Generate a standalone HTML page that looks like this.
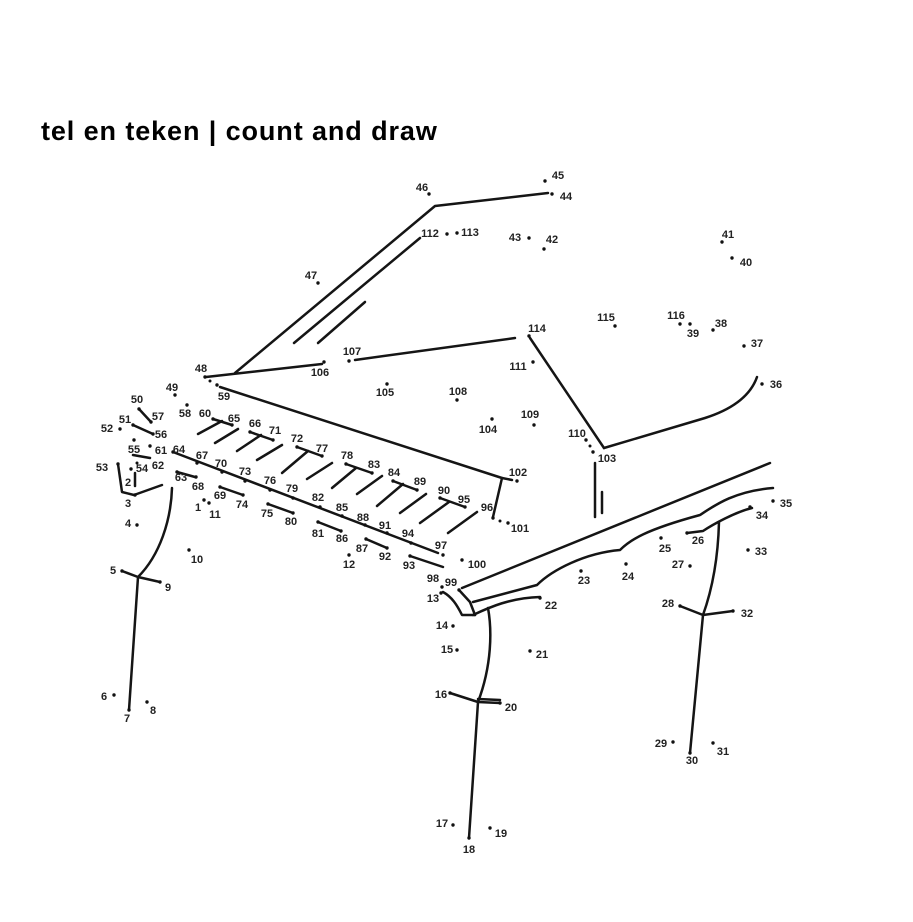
<!DOCTYPE html>
<html><head><meta charset="utf-8"><style>
html,body{margin:0;padding:0;background:#fff;}
body{width:913px;height:922px;overflow:hidden;position:relative;}
h1{position:absolute;left:41px;top:113px;margin:0;font-family:"Liberation Sans",Arial,sans-serif;font-weight:bold;font-size:27px;letter-spacing:0.9px;color:#000;white-space:nowrap;line-height:36px;}
svg{position:absolute;left:0;top:0;}
.l{fill:none;stroke:#151515;stroke-width:2.5;stroke-linecap:round;stroke-linejoin:round;}
.t{font-family:"Liberation Sans",Arial,sans-serif;font-weight:bold;font-size:11px;fill:#222;text-anchor:middle;}
.d{fill:#111;}
</style></head><body>
<h1>tel en teken | count and draw</h1>
<svg width="913" height="922" viewBox="0 0 913 922" xmlns="http://www.w3.org/2000/svg">
<g class="l">
<!-- lid -->
<path d="M206,377 L322,364"/>
<path d="M235,373 L435,206 L548,193"/>
<path d="M294,343 L420,238"/>
<path d="M318,343 L365,302"/>
<path d="M355,360 L515,338"/>
<path d="M530,338 L604,448"/>
<path d="M604,448 L705,418 C730,410 750,397 757,377"/>
<path d="M595,463 L595,517"/>
<path d="M602,492 L602,513"/>
<!-- keyboard back -->
<path d="M220,387 L502,478 L512,480"/>
<path d="M502,478 L493,517"/>
<!-- keyboard front -->
<path d="M173,452 L438,553"/>
<!-- black keys -->
<path d="M198,434 L222,421"/>
<path d="M215,443 L238,429"/>
<path d="M237,451 L261,435"/>
<path d="M257,460 L282,445"/>
<path d="M282,473 L308,451"/>
<path d="M307,479 L332,463"/>
<path d="M332,488 L356,468"/>
<path d="M357,494 L382,476"/>
<path d="M377,506 L403,484"/>
<path d="M400,513 L426,494"/>
<path d="M420,523 L449,502"/>
<path d="M448,533 L477,512"/>
<!-- T tops -->
<path d="M213,419 L232,425"/>
<path d="M250,432 L273,440"/>
<path d="M297,447 L322,456"/>
<path d="M346,464 L372,473"/>
<path d="M393,481 L417,490"/>
<path d="M440,498 L465,507"/>
<!-- lower stubs -->
<path d="M177,472 L195,477"/>
<path d="M220,487 L243,495"/>
<path d="M268,504 L293,513"/>
<path d="M318,522 L341,531"/>
<path d="M366,539 L387,548"/>
<path d="M410,556 L443,567"/>
<!-- left side -->
<path d="M139,409 L151,422"/>
<path d="M133,425 L153,434"/>
<path d="M133,455 L150,458"/>
<path d="M118,464 L122,492 L134,495 L162,485"/>
<path d="M135,473 L135,486"/>
<!-- left leg -->
<path d="M172,488 C171,520 160,555 138,577 L129,710"/>
<path d="M122,571 L138,577 L160,582"/>
<!-- front body -->
<path d="M462,588 L770,463"/>
<path d="M473,602 L537,585 C552,570 585,553 620,550 C630,540 645,530 700,515 C715,505 735,491 773,488"/>
<path d="M473,615 C490,607 510,598 540,597"/>
<path d="M443,592 C452,597 457,605 462,615 L475,615"/>
<path d="M459,590 L470,602 L475,615"/>
<!-- middle leg -->
<path d="M488,608 C492,630 492,665 478,702 L469,838"/>
<path d="M450,693 L478,702 L500,703"/>
<path d="M478,699 L500,700"/>
<!-- right leg -->
<path d="M719,522 C718,560 712,590 703,615 L690,753"/>
<path d="M680,606 L703,615 L733,611"/>
<path d="M687,533 L703,531 C712,525 735,512 752,508"/>
</g>
<g class="d">
<circle cx="204" cy="500" r="1.7"/><circle cx="135" cy="495" r="1.7"/><circle cx="137" cy="525" r="1.7"/>
<circle cx="122" cy="571" r="1.7"/><circle cx="114" cy="695" r="1.7"/><circle cx="129" cy="710" r="1.7"/>
<circle cx="147" cy="702" r="1.7"/><circle cx="160" cy="582" r="1.7"/><circle cx="189" cy="550" r="1.7"/>
<circle cx="209" cy="503" r="1.7"/><circle cx="349" cy="555" r="1.7"/><circle cx="441" cy="593" r="1.7"/>
<circle cx="453" cy="626" r="1.7"/><circle cx="457" cy="650" r="1.7"/><circle cx="450" cy="693" r="1.7"/>
<circle cx="453" cy="825" r="1.7"/><circle cx="469" cy="838" r="1.7"/><circle cx="490" cy="828" r="1.7"/>
<circle cx="500" cy="703" r="1.7"/><circle cx="530" cy="651" r="1.7"/><circle cx="540" cy="598" r="1.7"/>
<circle cx="581" cy="571" r="1.7"/><circle cx="626" cy="564" r="1.7"/><circle cx="661" cy="538" r="1.7"/>
<circle cx="687" cy="533" r="1.7"/><circle cx="690" cy="566" r="1.7"/><circle cx="680" cy="606" r="1.7"/>
<circle cx="673" cy="742" r="1.7"/><circle cx="690" cy="753" r="1.7"/><circle cx="713" cy="743" r="1.7"/>
<circle cx="733" cy="611" r="1.7"/><circle cx="748" cy="550" r="1.7"/><circle cx="750" cy="507" r="1.7"/>
<circle cx="773" cy="501" r="1.7"/><circle cx="762" cy="384" r="1.7"/><circle cx="744" cy="346" r="1.7"/>
<circle cx="713" cy="330" r="1.7"/><circle cx="690" cy="324" r="1.7"/><circle cx="732" cy="258" r="1.7"/>
<circle cx="722" cy="242" r="1.7"/><circle cx="544" cy="249" r="1.7"/><circle cx="529" cy="238" r="1.7"/>
<circle cx="552" cy="194" r="1.7"/><circle cx="545" cy="181" r="1.7"/><circle cx="429" cy="194" r="1.7"/>
<circle cx="318" cy="283" r="1.7"/><circle cx="205" cy="377" r="1.7"/><circle cx="210" cy="381" r="1.5"/>
<circle cx="217" cy="385" r="1.7"/><circle cx="175" cy="395" r="1.7"/><circle cx="139" cy="409" r="1.7"/>
<circle cx="133" cy="425" r="1.7"/><circle cx="120" cy="429" r="1.7"/><circle cx="118" cy="464" r="1.7"/>
<circle cx="131" cy="469" r="1.7"/><circle cx="137" cy="463" r="1.5"/><circle cx="134" cy="440" r="1.7"/>
<circle cx="153" cy="434" r="1.7"/><circle cx="151" cy="422" r="1.7"/><circle cx="187" cy="405" r="1.7"/>
<circle cx="213" cy="419" r="1.7"/><circle cx="150" cy="446" r="1.7"/><circle cx="177" cy="472" r="1.7"/>
<circle cx="173" cy="452" r="1.7"/><circle cx="232" cy="425" r="1.7"/><circle cx="250" cy="432" r="1.7"/>
<circle cx="197" cy="463" r="1.7"/><circle cx="196" cy="477" r="1.7"/><circle cx="220" cy="487" r="1.7"/>
<circle cx="222" cy="472" r="1.7"/><circle cx="273" cy="440" r="1.7"/><circle cx="297" cy="447" r="1.7"/>
<circle cx="245" cy="481" r="1.7"/><circle cx="243" cy="495" r="1.7"/><circle cx="268" cy="504" r="1.7"/>
<circle cx="270" cy="490" r="1.7"/><circle cx="322" cy="456" r="1.7"/><circle cx="346" cy="464" r="1.7"/>
<circle cx="293" cy="498" r="1.7"/><circle cx="293" cy="513" r="1.7"/><circle cx="318" cy="522" r="1.7"/>
<circle cx="320" cy="507" r="1.7"/><circle cx="372" cy="473" r="1.7"/><circle cx="393" cy="481" r="1.7"/>
<circle cx="342" cy="516" r="1.7"/><circle cx="341" cy="531" r="1.7"/><circle cx="366" cy="539" r="1.7"/>
<circle cx="365" cy="525" r="1.7"/><circle cx="417" cy="490" r="1.7"/><circle cx="440" cy="498" r="1.7"/>
<circle cx="387" cy="533" r="1.7"/><circle cx="387" cy="548" r="1.7"/><circle cx="410" cy="556" r="1.7"/>
<circle cx="411" cy="543" r="1.7"/><circle cx="465" cy="507" r="1.7"/><circle cx="493" cy="518" r="1.7"/>
<circle cx="500" cy="521" r="1.5"/><circle cx="443" cy="555" r="1.7"/><circle cx="442" cy="587" r="1.7"/>
<circle cx="459" cy="590" r="1.7"/><circle cx="462" cy="560" r="1.7"/><circle cx="508" cy="523" r="1.7"/>
<circle cx="517" cy="481" r="1.7"/><circle cx="593" cy="452" r="1.7"/><circle cx="590" cy="446" r="1.5"/>
<circle cx="492" cy="419" r="1.7"/><circle cx="387" cy="384" r="1.7"/><circle cx="324" cy="362" r="1.7"/>
<circle cx="349" cy="361" r="1.7"/><circle cx="457" cy="400" r="1.7"/><circle cx="534" cy="425" r="1.7"/>
<circle cx="586" cy="440" r="1.7"/><circle cx="533" cy="362" r="1.7"/><circle cx="447" cy="234" r="1.7"/>
<circle cx="457" cy="233" r="1.7"/><circle cx="529" cy="336" r="1.7"/><circle cx="615" cy="326" r="1.7"/>
<circle cx="680" cy="324" r="1.7"/>
</g>
<g class="t">
<text x="198" y="511">1</text><text x="128" y="486">2</text><text x="128" y="507">3</text>
<text x="128" y="527">4</text><text x="113" y="574">5</text><text x="104" y="700">6</text>
<text x="127" y="722">7</text><text x="153" y="714">8</text><text x="168" y="591">9</text>
<text x="197" y="563">10</text><text x="215" y="518">11</text><text x="349" y="568">12</text>
<text x="433" y="602">13</text><text x="442" y="629">14</text><text x="447" y="653">15</text>
<text x="441" y="698">16</text><text x="442" y="827">17</text><text x="469" y="853">18</text>
<text x="501" y="837">19</text><text x="511" y="711">20</text><text x="542" y="658">21</text>
<text x="551" y="609">22</text><text x="584" y="584">23</text><text x="628" y="580">24</text>
<text x="665" y="552">25</text><text x="698" y="544">26</text><text x="678" y="568">27</text>
<text x="668" y="607">28</text><text x="661" y="747">29</text><text x="692" y="764">30</text>
<text x="723" y="755">31</text><text x="747" y="617">32</text><text x="761" y="555">33</text>
<text x="762" y="519">34</text><text x="786" y="507">35</text><text x="776" y="388">36</text>
<text x="757" y="347">37</text><text x="721" y="327">38</text><text x="693" y="337">39</text>
<text x="746" y="266">40</text><text x="728" y="238">41</text><text x="552" y="243">42</text>
<text x="515" y="241">43</text><text x="566" y="200">44</text><text x="558" y="179">45</text>
<text x="422" y="191">46</text><text x="311" y="279">47</text><text x="201" y="372">48</text>
<text x="172" y="391">49</text><text x="137" y="403">50</text><text x="125" y="423">51</text>
<text x="107" y="432">52</text><text x="102" y="471">53</text><text x="142" y="472">54</text>
<text x="134" y="453">55</text><text x="161" y="438">56</text><text x="158" y="420">57</text>
<text x="185" y="417">58</text><text x="224" y="400">59</text><text x="205" y="417">60</text>
<text x="161" y="454">61</text><text x="158" y="469">62</text><text x="181" y="481">63</text>
<text x="179" y="453">64</text><text x="234" y="422">65</text><text x="255" y="427">66</text>
<text x="202" y="459">67</text><text x="198" y="490">68</text><text x="220" y="499">69</text>
<text x="221" y="467">70</text><text x="275" y="434">71</text><text x="297" y="442">72</text>
<text x="245" y="475">73</text><text x="242" y="508">74</text><text x="267" y="517">75</text>
<text x="270" y="484">76</text><text x="322" y="452">77</text><text x="347" y="459">78</text>
<text x="292" y="492">79</text><text x="291" y="525">80</text><text x="318" y="537">81</text>
<text x="318" y="501">82</text><text x="374" y="468">83</text><text x="394" y="476">84</text>
<text x="342" y="511">85</text><text x="342" y="542">86</text><text x="362" y="552">87</text>
<text x="363" y="521">88</text><text x="420" y="485">89</text><text x="444" y="494">90</text>
<text x="385" y="529">91</text><text x="385" y="560">92</text><text x="409" y="569">93</text>
<text x="408" y="537">94</text><text x="464" y="503">95</text><text x="487" y="511">96</text>
<text x="441" y="549">97</text><text x="433" y="582">98</text><text x="451" y="586">99</text>
<text x="477" y="568">100</text><text x="520" y="532">101</text><text x="518" y="476">102</text>
<text x="607" y="462">103</text><text x="488" y="433">104</text><text x="385" y="396">105</text>
<text x="320" y="376">106</text><text x="352" y="355">107</text><text x="458" y="395">108</text>
<text x="530" y="418">109</text><text x="577" y="437">110</text><text x="518" y="370">111</text>
<text x="430" y="237">112</text><text x="470" y="236">113</text><text x="537" y="332">114</text>
<text x="606" y="321">115</text><text x="676" y="319">116</text>
</g>
</svg>
</body></html>
